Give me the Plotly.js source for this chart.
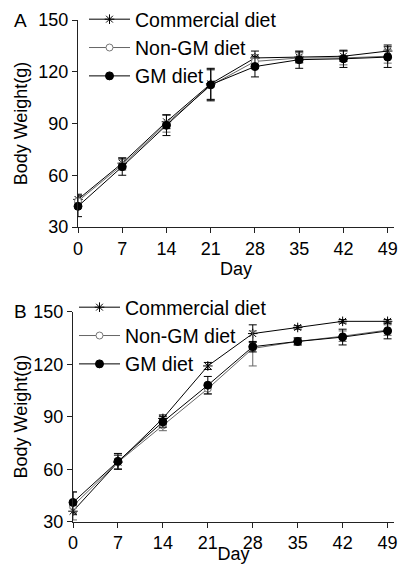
<!DOCTYPE html>
<html>
<head>
<meta charset="utf-8">
<script src="https://cdn.plot.ly/plotly-3.0.1.min.js"></script>
<style>html,body{margin:0;padding:0;background:#fff;}#chart{width:401px;height:564px;}</style>
</head>
<body>
<div id="chart"></div>
<script>
// Days
const days = [0, 7, 14, 21, 28, 35, 42, 49];
const dayTicks = ['0', '7', '14', '21', '28', '35', '42', '49'];
const weightTicks = [30, 60, 90, 120, 150];
const seriesNames = ['Commercial diet', 'Non-GM diet', 'GM diet'];

// Panel A
const commA = [46, 67, 91, 113, 128, 128.5, 129, 132];
const commAErr = [3, 3, 4, 9, 4, 3, 3, 3.5];
const nongmA = [45, 66, 90, 112, 126, 128, 128, 129];
const nongmAErr = [3, 3, 5, 9, 4, 3, 4, 4];
const gmA = [42, 65, 89, 112.5, 123, 127, 127.5, 128.5];
const gmAErr = [6, 5, 6, 9, 6, 5, 5, 6];

// Panel B
const commB = [36, 64, 89, 119, 137.5, 141, 144.5, 144.5];
const commBErr = [2, 4, 2, 2, 5, 1, 1, 1];
const nongmB = [39, 64, 85, 106, 129, 133, 136, 139.5];
const nongmBErr = [8, 4, 3, 3, 10, 2, 3, 3];
const gmB = [41, 64.5, 87, 108, 130, 133, 135.5, 139];
const gmBErr = [6, 4.5, 3, 5, 3, 2, 4.5, 4.5];

const FONT = 'Arial, Liberation Sans, sans-serif';
const styles = [
  {line: '#000', marker: {symbol: 'asterisk-open', size: 8, color: '#000', line: {color: '#000', width: 1}}},
  {line: '#666', marker: {symbol: 'circle', size: 7, color: '#fff', line: {color: '#777', width: 1}}},
  {line: '#000', marker: {symbol: 'circle', size: 8, color: '#000', line: {color: '#000', width: 1}}}
];

function mk(y, err, i, xa, ya, leg) {
  return {
    x: days, y: y, type: 'scatter', mode: 'lines+markers', name: seriesNames[i],
    xaxis: xa, yaxis: ya, legend: leg, cliponaxis: false,
    line: {color: styles[i].line, width: 1},
    marker: styles[i].marker,
    error_y: {type: 'data', array: err, visible: true, color: styles[i].line, thickness: 1, width: 4}
  };
}

const traces = [
  mk(commA, commAErr, 0, 'x', 'y', 'legend'),
  mk(nongmA, nongmAErr, 1, 'x', 'y', 'legend'),
  mk(gmA, gmAErr, 2, 'x', 'y', 'legend'),
  mk(commB, commBErr, 0, 'x2', 'y2', 'legend2'),
  mk(nongmB, nongmBErr, 1, 'x2', 'y2', 'legend2'),
  mk(gmB, gmBErr, 2, 'x2', 'y2', 'legend2')
];

const W = 401, H = 564;
function xAxis(domain, standoff) {
  return {
    domain: domain, range: [0, 50], tickvals: days, ticktext: dayTicks,
    showgrid: false, zeroline: false, showline: true, linecolor: '#222', linewidth: 1,
    ticks: 'outside', ticklen: 5, tickcolor: '#222',
    tickfont: {family: FONT, size: 18, color: '#000'},
    title: {text: 'Day', font: {family: FONT, size: 18, color: '#000'}, standoff: standoff},
    fixedrange: true
  };
}
function yAxis(domain, anchor, standoff) {
  return {
    domain: domain, range: [30, 150], tickvals: weightTicks, anchor: anchor,
    showgrid: false, zeroline: false, showline: true, linecolor: '#222', linewidth: 1,
    ticks: 'outside', ticklen: 5, tickcolor: '#222',
    tickfont: {family: FONT, size: 18, color: '#000'},
    title: {text: 'Body Weight(g)', font: {family: FONT, size: 18, color: '#000'}, standoff: standoff},
    fixedrange: true
  };
}

const LEGFONT = {family: FONT, size: 19.5, color: '#000'};
const layout = {
  width: W, height: H,
  margin: {l: 0, r: 0, t: 0, b: 0},
  paper_bgcolor: '#fff', plot_bgcolor: '#fff',
  font: {family: FONT, color: '#000'},
  showlegend: true,
  xaxis: Object.assign(xAxis([78 / W, 394 / W], 2), {anchor: 'y'}),
  yaxis: yAxis([1 - 227 / H, 1 - 20 / H], 'x', 6),
  xaxis2: Object.assign(xAxis([73 / W, 394 / W], 0), {anchor: 'y2'}),
  yaxis2: yAxis([1 - 521.7 / H, 1 - 311.7 / H], 'x2', 1),
  legend: {x: 84 / W, y: 1 - 0 / H, xanchor: 'left', yanchor: 'top', bgcolor: 'rgba(0,0,0,0)',
           font: LEGFONT, itemwidth: 41, tracegroupgap: 0},
  legend2: {x: 74 / W, y: 1 - 288 / H, xanchor: 'left', yanchor: 'top', bgcolor: 'rgba(0,0,0,0)',
            font: LEGFONT, itemwidth: 41, tracegroupgap: 0},
  annotations: [
    {text: 'A', x: 20 / W, y: 1 - 20 / H, xref: 'paper', yref: 'paper', showarrow: false,
     xanchor: 'center', yanchor: 'middle', font: {family: FONT, size: 19, color: '#000'}},
    {text: 'B', x: 20 / W, y: 1 - 311 / H, xref: 'paper', yref: 'paper', showarrow: false,
     xanchor: 'center', yanchor: 'middle', font: {family: FONT, size: 19, color: '#000'}}
  ]
};

Plotly.newPlot('chart', traces, layout, {displayModeBar: false, staticPlot: true});
</script>
</body>
</html>
